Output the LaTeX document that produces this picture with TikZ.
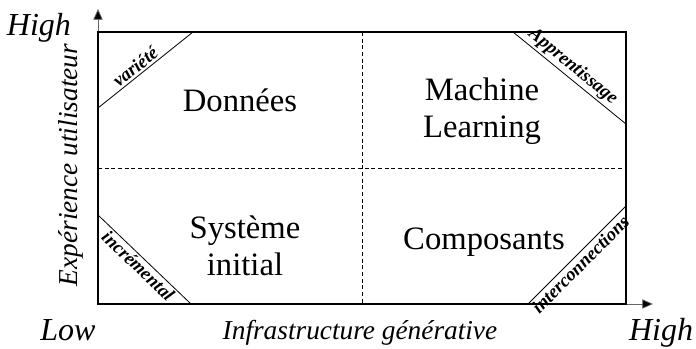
\documentclass[tikz,border=0pt]{standalone}
\usepackage{fontspec}
\setmainfont{Liberation Serif}
\usetikzlibrary{arrows.meta}
\begin{document}
\begin{tikzpicture}[x=0.75pt,y=0.75pt,
  frame/.style={line width=1.5pt},
  divider/.style={line width=0.5pt,dash pattern=on 3pt off 2pt},
  diag/.style={line width=0.6pt},
  axisarrow/.style={line width=0.6pt,draw=black!60,-{Triangle[length=8pt,width=7pt,fill=black]}},
  quad/.style={font=\fontsize{24.5}{28}\selectfont,align=center},
  level/.style={font=\fontsize{24}{28}\selectfont\itshape},
  axislabel/.style={font=\fontsize{20.5}{24}\selectfont\itshape},
  corner/.style={font=\fontsize{14}{16}\selectfont\bfseries\itshape,inner sep=1.5pt}]
\useasboundingbox (0,0) rectangle (696,349);

% corners of the matrix
\coordinate (sw) at (98,45);
\coordinate (ne) at (626,317);
\coordinate (nw) at (98,317);
\coordinate (se) at (626,45);

% axes
\coordinate (ytip) at (98,340);
\coordinate (xtip) at (653,45);
\draw[axisarrow] (nw) -- (ytip);
\draw[axisarrow] (se) -- (xtip);

% quadrant dividers
\coordinate (mt) at (362,317);
\coordinate (mb) at (362,45);
\coordinate (ml) at (98,181);
\coordinate (mr) at (626,181);
\draw[divider] (mt) -- (mb);
\draw[divider] (ml) -- (mr);

% corner diagonals with their labels
\coordinate (a1) at (98,241);  \coordinate (a2) at (193,317);
\coordinate (b1) at (513,317); \coordinate (b2) at (626,225);
\coordinate (c1) at (98,134);  \coordinate (c2) at (191,45);
\coordinate (d1) at (528,45);  \coordinate (d2) at (626,143);
\draw[diag] (a1) -- node[corner,sloped,above,pos=0.45] (var) {variété} (a2);
\draw[diag] (b1) -- node[corner,sloped,above,pos=0.47] (app) {Apprentissage} (b2);
\draw[diag] (c1) -- node[corner,sloped,below] (inc) {incrémental} (c2);
\draw[diag] (d1) -- node[corner,sloped,below,pos=0.47] (int) {interconnections} (d2);

% frame
\draw[frame] (sw) rectangle (ne);

% quadrant titles
\node[quad] (q1) at (240,249) {Données};
\node[quad] (q2) at (482,238) {Machine\\Learning};
\node[quad] (q3) at (245,103) {Système\\initial};
\node[quad] (q4) at (484,107) {Composants};

% axis levels and titles
\node[level] (yhigh) at (39,321) {High};
\node[level] (low) at (68,19) {Low};
\node[level] (xhigh) at (661,16) {High};
\node[axislabel] (xlab) at (360,16) {Infrastructure générative};
\node[axislabel,rotate=90] (ylab) at (71,184) {Expérience utilisateur};
\end{tikzpicture}
\end{document}
